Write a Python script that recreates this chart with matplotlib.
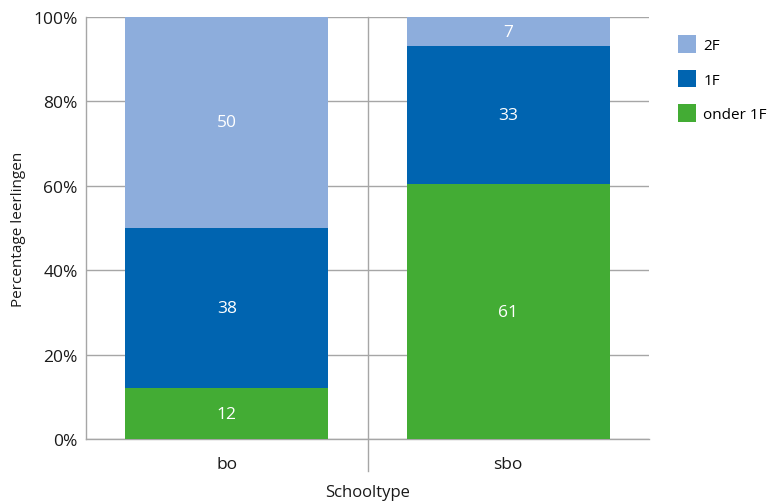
import numpy as np
import matplotlib.pyplot as plt

plt.rcParams['font.family'] = ['Open Sans', 'DejaVu Sans']

schooltypes = ['bo', 'sbo']
levels = ['onder 1F', '1F', '2F']
onder_1f = [12, 61]
f1 = [38, 33]
f2 = [50, 7]
colors = ['#43AC34', '#0064B0', '#8DADDC']

data = np.array([onder_1f, f1, f2], dtype=float)
pct = data / data.sum(axis=0) * 100

fig = plt.figure(figsize=(7.69, 5.02), dpi=100)
ax = fig.add_axes([86 / 769, 62 / 502, 563 / 769, 422 / 502])

x = np.arange(len(schooltypes))
bottom = np.zeros(len(schooltypes))
handles = []
for i in range(len(levels)):
    bars = ax.bar(x, pct[i], bottom=bottom, width=0.72, color=colors[i],
                  label=levels[i], zorder=3)
    handles.append(bars)
    for j in range(len(schooltypes)):
        ax.text(x[j], bottom[j] + pct[i][j] / 2, str(int(data[i][j])),
                ha='center', va='center', color='white', fontsize=12.5, zorder=4)
    bottom += pct[i]

ax.set_xlim(-0.5, 1.5)
ax.set_ylim(0, 100)
ax.set_yticks(np.arange(0, 101, 20))
ax.set_yticklabels([f'{v}%' for v in range(0, 101, 20)])
ax.set_xticks(x)
ax.set_xticklabels(schooltypes)
ax.grid(axis='y', color='#A6A6A6', linewidth=1, zorder=0)
ax.tick_params(axis='both', length=0, labelsize=12.5, colors='#1a1a1a')
ax.tick_params(axis='x', pad=12)
ax.tick_params(axis='y', pad=6)

for s in ['top', 'right']:
    ax.spines[s].set_visible(False)
for s in ['left', 'bottom']:
    ax.spines[s].set_color('#A6A6A6')
    ax.spines[s].set_linewidth(1)

# divider between categories
ax.axvline(0.5, ymin=-0.076, ymax=1, color='#A6A6A6', linewidth=1,
           clip_on=False, zorder=1)

ax.set_xlabel('Schooltype', fontsize=12, labelpad=9, color='#1a1a1a')
ax.set_ylabel('Percentage leerlingen', fontsize=11, labelpad=5, color='#1a1a1a')

leg = ax.legend(handles[::-1], levels[::-1], loc='upper left',
                bbox_to_anchor=(1.041, 0.972), frameon=False, fontsize=11,
                handlelength=1.15, handleheight=1.4, labelspacing=1.1,
                handletextpad=0.5, borderaxespad=0)

fig.savefig('out.png', dpi=100)
